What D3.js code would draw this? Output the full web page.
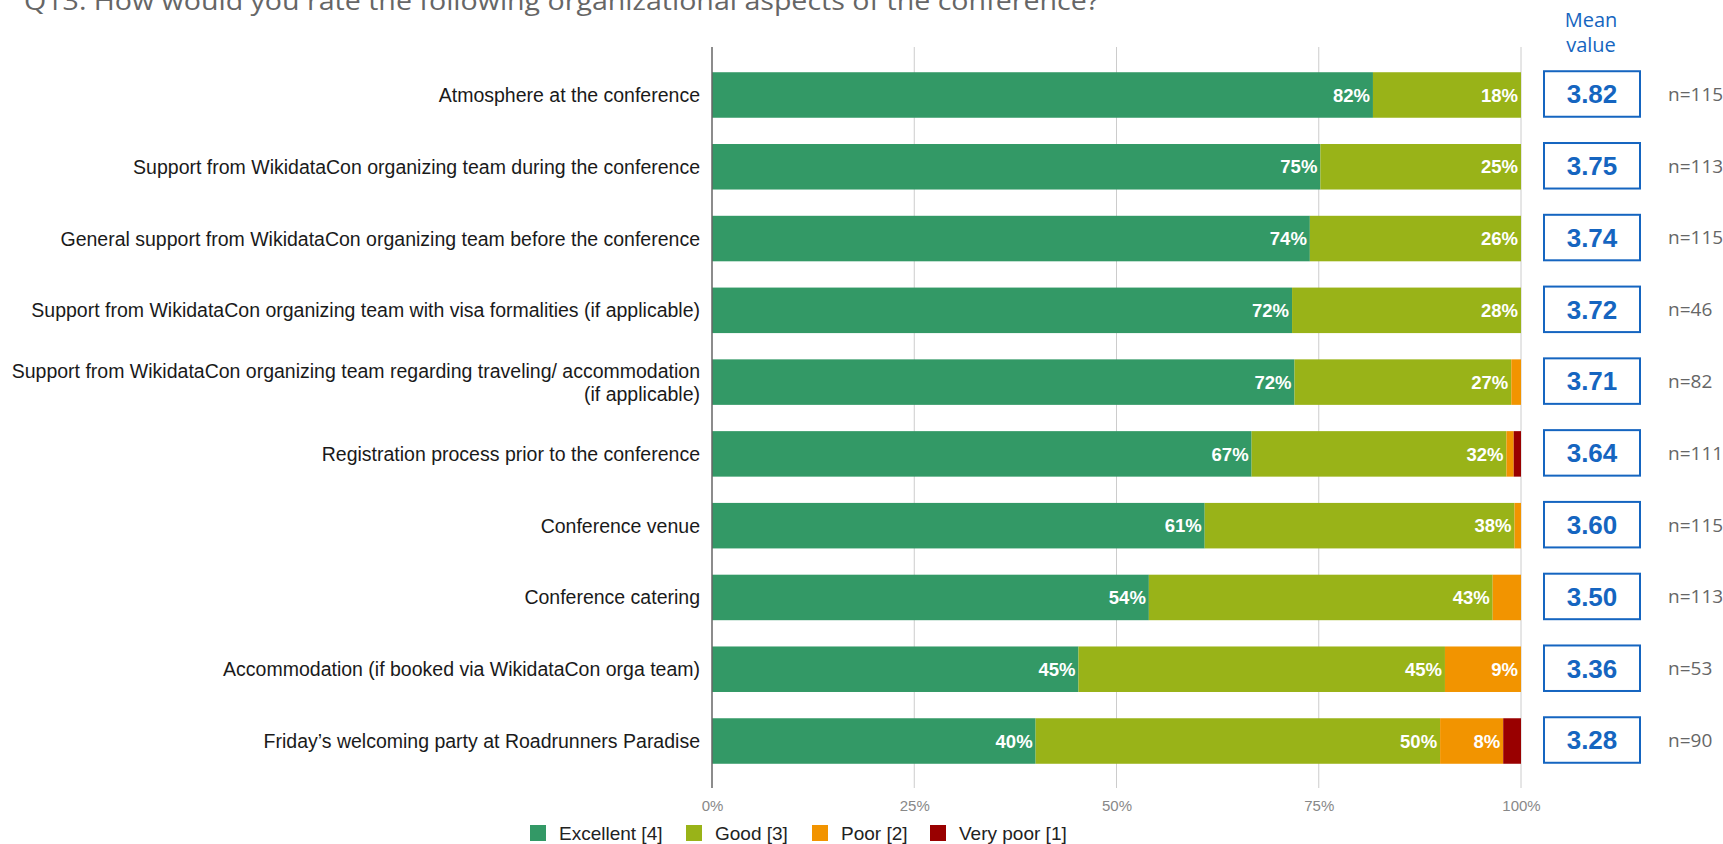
<!DOCTYPE html>
<html><head><meta charset="utf-8">
<script src="https://cdn.jsdelivr.net/npm/d3@7"></script>
<style>body{margin:0;background:#fff}svg{display:block}</style>
</head><body>
<svg id="c" width="1723" height="844"></svg>
<script>
const title = "Q13. How would you rate the following organizational aspects of the conference?";
const categories = [
  "Atmosphere at the conference",
  "Support from WikidataCon organizing team during the conference",
  "General support from WikidataCon organizing team before the conference",
  "Support from WikidataCon organizing team with visa formalities (if applicable)",
  "Support from WikidataCon organizing team regarding traveling/ accommodation\n(if applicable)",
  "Registration process prior to the conference",
  "Conference venue",
  "Conference catering",
  "Accommodation (if booked via WikidataCon orga team)",
  "Friday’s welcoming party at Roadrunners Paradise"
];
const seriesNames = ["Excellent [4]", "Good [3]", "Poor [2]", "Very poor [1]"];
const excellent = [81.7, 75.2, 73.9, 71.7, 72.0, 66.7, 60.9, 54.0, 45.3, 40.0];
const good      = [18.3, 24.8, 26.1, 28.3, 26.8, 31.5, 38.3, 42.5, 45.3, 50.0];
const poor      = [0, 0, 0, 0, 1.2, 0.9, 0.8, 3.5, 9.4, 7.8];
const veryPoor  = [0, 0, 0, 0, 0, 0.9, 0, 0, 0, 2.2];
const means = ["3.82","3.75","3.74","3.72","3.71","3.64","3.60","3.50","3.36","3.28"];
const counts = ["n=115","n=113","n=115","n=46","n=82","n=111","n=115","n=113","n=53","n=90"];
const tickValues = [0, 25, 50, 75, 100];
const colors = ["#339966", "#99b318", "#f29400", "#990000"];

const svg = d3.select("#c");
const x = d3.scaleLinear().domain([0, 100]).range([712, 1521]);
const y = d3.scaleBand().domain(d3.range(categories.length)).range([59.1, 776.9]).paddingInner(0.366).paddingOuter(0.183);

// title
svg.append("text").attr("x", 24).attr("y", 10).attr("font-family", "Open Sans, sans-serif")
  .attr("font-size", 25).attr("fill", "#666").attr("textLength", 1075).attr("lengthAdjust", "spacingAndGlyphs").text(title);

// grid
svg.append("g").selectAll("line").data(tickValues.filter(d => d > 0)).join("line")
  .attr("x1", d => x(d)).attr("x2", d => x(d)).attr("y1", 47).attr("y2", 788)
  .attr("stroke", "#cccccc").attr("stroke-width", 1);

// bottom axis tick labels
const axis = d3.axisBottom(x).tickValues(tickValues).tickFormat(d => d + "%").tickSize(0).tickPadding(0);
const ga = svg.append("g").attr("transform", "translate(0,800)").call(axis);
ga.select(".domain").remove();
ga.selectAll("text").attr("font-family", "Liberation Sans, Arial, sans-serif").attr("font-size", 15).attr("fill", "#888").attr("dy", "0.71em");

// stacked data
const table = categories.map((c, i) => ({i, v: [excellent[i], good[i], poor[i], veryPoor[i]]}));
const stack = d3.stack().keys([0,1,2,3]).value((d, k) => d.v[k]);
const layers = stack(table);

const gBars = svg.append("g");
layers.forEach((layer, k) => {
  gBars.append("g").selectAll("rect").data(layer).join("rect")
    .attr("x", d => x(d[0])).attr("width", d => Math.max(0, x(d[1]) - x(d[0])))
    .attr("y", (d, i) => y(i)).attr("height", y.bandwidth())
    .attr("fill", colors[k]);
  gBars.append("g").selectAll("text").data(layer.filter(d => d[1] - d[0] >= 5)).join("text")
    .attr("x", d => x(d[1]) - 3).attr("y", d => y(d.data.i) + y.bandwidth() / 2)
    .attr("dy", "0.36em").attr("text-anchor", "end")
    .attr("font-family", "Liberation Sans, Arial, sans-serif").attr("font-weight", "bold")
    .attr("font-size", 18.5).attr("fill", "#fff")
    .text(d => Math.round(d[1] - d[0]) + "%");
});

// zero axis line
svg.append("line").attr("x1", x(0)).attr("x2", x(0)).attr("y1", 47).attr("y2", 788)
  .attr("stroke", "#666").attr("stroke-width", 1.5);

// category labels
const gl = svg.append("g");
categories.forEach((c, i) => {
  const lines = c.split("\n");
  const cy = y(i) + y.bandwidth() / 2;
  const t = gl.append("text").attr("text-anchor", "end")
    .attr("font-family", "Liberation Sans, Arial, sans-serif").attr("font-size", 19.5).attr("fill", "#1a1a1a");
  lines.forEach((ln, j) => {
    t.append("tspan").attr("x", 700)
      .attr("y", cy + (j - (lines.length - 1) / 2) * 23).attr("dy", "0.36em").text(ln);
  });
});

// mean header
const mh = svg.append("text").attr("text-anchor", "middle").attr("font-family", "Open Sans, sans-serif")
  .attr("font-size", 20).attr("fill", "#1565c0");
mh.append("tspan").attr("x", 1591).attr("y", 27).text("Mean");
mh.append("tspan").attr("x", 1591).attr("y", 52).text("value");

// mean boxes
const gm = svg.append("g");
means.forEach((m, i) => {
  gm.append("rect").attr("x", 1544).attr("y", y(i) - 1).attr("width", 96).attr("height", y.bandwidth())
    .attr("fill", "#fff").attr("stroke", "#1565c0").attr("stroke-width", 2);
  gm.append("text").attr("x", 1592).attr("y", y(i) - 1 + y.bandwidth() / 2).attr("dy", "0.36em")
    .attr("text-anchor", "middle").attr("font-family", "Liberation Sans, Arial, sans-serif")
    .attr("font-weight", "bold").attr("font-size", 26).attr("fill", "#1565c0").text(m);
  gm.append("text").attr("x", 1668).attr("y", y(i) - 1 + y.bandwidth() / 2).attr("dy", "0.36em")
    .attr("font-family", "Open Sans, sans-serif").attr("font-size", 19).attr("fill", "#666").text(counts[i]);
});

// legend
const legX = [530, 686, 812, 930];
const gLeg = svg.append("g");
seriesNames.forEach((s, k) => {
  gLeg.append("rect").attr("x", legX[k]).attr("y", 825).attr("width", 16).attr("height", 16).attr("fill", colors[k]);
  gLeg.append("text").attr("x", legX[k] + 29).attr("y", 833).attr("dy", "0.36em")
    .attr("font-family", "Liberation Sans, Arial, sans-serif").attr("font-size", 19).attr("fill", "#222").text(s);
});
</script>
</body></html>
